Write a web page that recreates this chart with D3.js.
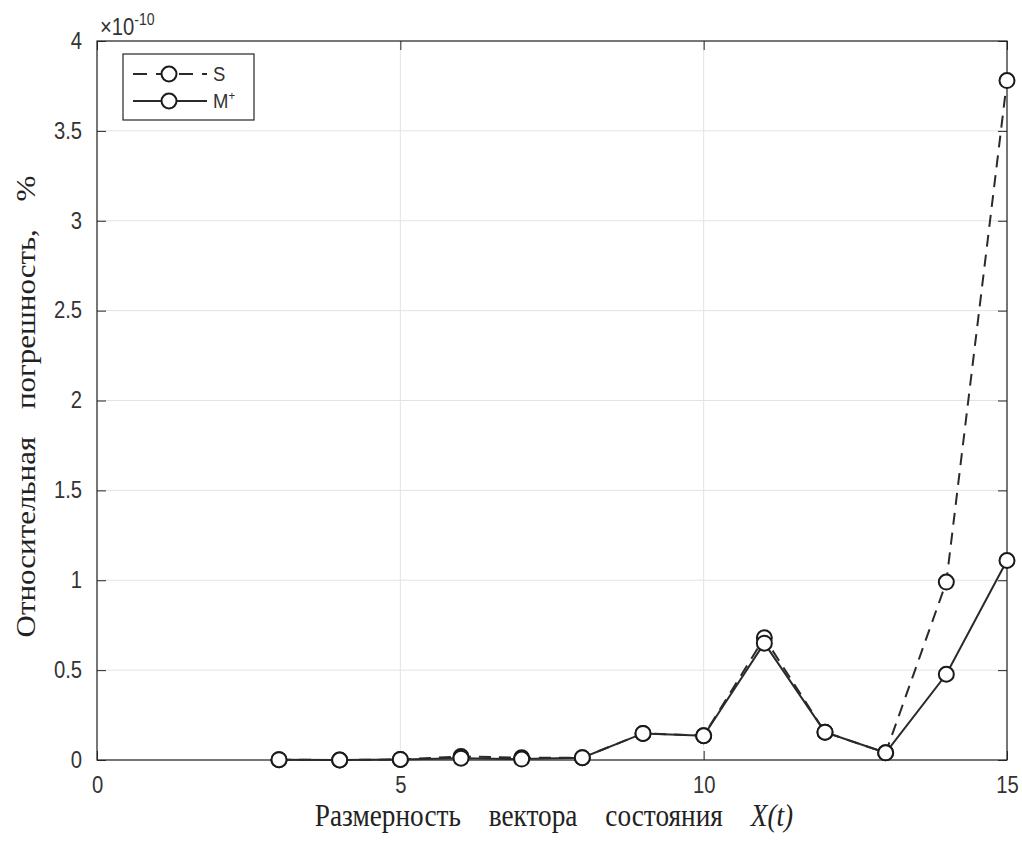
<!DOCTYPE html>
<html>
<head>
<meta charset="utf-8">
<script src="https://cdn.jsdelivr.net/npm/d3@7"></script>
<style>
  body { margin: 0; background: #fff; }
  svg { display: block; }
</style>
</head>
<body>
<div id="chart"></div>
<script>
// values in units of 1e-10 %
const dims = [3, 4, 5, 6, 7, 8, 9, 10, 11, 12, 13, 14, 15];
const valuesS = [0.002, 0.0, 0.003, 0.02, 0.012, 0.013, 0.148, 0.135, 0.68, 0.155, 0.04, 0.99, 3.78];
const valuesM = [0.002, 0.0, 0.003, 0.01, 0.005, 0.013, 0.148, 0.135, 0.65, 0.155, 0.04, 0.477, 1.11];
const xTicks = [0, 5, 10, 15];
const yTicks = [0, 0.5, 1, 1.5, 2, 2.5, 3, 3.5, 4];

const width = 1022, height = 841;
const margins = { top: 41, right: 15, bottom: 81, left: 97 };
const axisColor = "#262626";
const squeeze = 0.88; // source picture is a bit narrower than tall

const svg = d3.select("#chart")
    .append("svg")
    .attr("width", width)
    .attr("height", height);

const x = d3.scaleLinear()
    .domain([0, 15])
    .range([margins.left, width - margins.right]);
const y = d3.scaleLinear()
    .domain([0, 4])
    .range([height - margins.bottom, margins.top]);

const tickFont = "'Liberation Sans', Arial, sans-serif";

/** grid */
svg.append("g")
    .selectAll("line.gx")
    .data(xTicks)
    .join("line")
    .attr("x1", d => x(d)).attr("x2", d => x(d))
    .attr("y1", y(0)).attr("y2", y(4))
    .attr("stroke", "#e3e3e3")
    .attr("stroke-width", 1);
svg.append("g")
    .selectAll("line.gy")
    .data(yTicks)
    .join("line")
    .attr("x1", x(0)).attr("x2", x(15))
    .attr("y1", d => y(d)).attr("y2", d => y(d))
    .attr("stroke", "#e3e3e3")
    .attr("stroke-width", 1);

/** axes (ticks inward, box on) */
const styleAxis = g => {
    g.select(".domain").remove();
    g.selectAll(".tick line").attr("stroke", axisColor).attr("stroke-width", 1);
    g.selectAll(".tick text")
        .attr("fill", "#333")
        .attr("transform", `scale(${squeeze},1)`)
        .style("font-family", tickFont)
        .style("font-size", "23px");
};

svg.append("g")
    .attr("transform", `translate(0,${y(0)})`)
    .call(d3.axisBottom(x).tickValues(xTicks).tickFormat(d3.format("d")).tickSizeInner(-9).tickPadding(17))
    .call(styleAxis);
svg.append("g")
    .attr("transform", `translate(0,${y(4)})`)
    .call(d3.axisTop(x).tickValues(xTicks).tickFormat("").tickSizeInner(-9))
    .call(styleAxis);
svg.append("g")
    .attr("transform", `translate(${x(0)},0)`)
    .call(d3.axisLeft(y).tickValues(yTicks).tickFormat(d => d).tickSizeInner(-9).tickPadding(17))
    .call(styleAxis);
svg.append("g")
    .attr("transform", `translate(${x(15)},0)`)
    .call(d3.axisRight(y).tickValues(yTicks).tickFormat("").tickSizeInner(-9))
    .call(styleAxis);

svg.append("rect")
    .attr("x", x(0)).attr("y", y(4))
    .attr("width", x(15) - x(0)).attr("height", y(0) - y(4))
    .attr("fill", "none")
    .attr("stroke", axisColor)
    .attr("stroke-width", 1.2);

/** exponent */
const expo = svg.append("text")
    .attr("transform", `translate(100,35) scale(${squeeze},1)`)
    .attr("fill", "#333")
    .style("font-family", tickFont)
    .style("font-size", "23px");
expo.append("tspan").text("\u00d710");
expo.append("tspan").attr("dy", -10).style("font-size", "16px").text("-10");

/** axis labels */
const serif = "'Liberation Serif', 'Times New Roman', serif";
const xl = svg.append("text")
    .attr("transform", `translate(${(x(0) + x(15)) / 2 + 2},826) scale(${squeeze},1)`)
    .attr("text-anchor", "middle")
    .attr("fill", "#222")
    .style("font-family", serif)
    .style("font-size", "31px")
    .style("word-spacing", "24px");
xl.append("tspan").text("Размерность вектора состояния ");
xl.append("tspan").style("font-style", "italic").text("X(t)");

svg.append("text")
    .attr("transform", `translate(35,${(y(0) + y(4)) / 2 + 6}) rotate(-90) scale(1,${squeeze})`)
    .attr("text-anchor", "middle")
    .attr("fill", "#222")
    .style("font-family", serif)
    .style("font-size", "31px")
    .style("word-spacing", "20px")
    .text("Относительная погрешность, %");

/** series */
const series = [
    { name: "S", values: valuesS, dash: "12,8" },
    { name: "M", values: valuesM, dash: null }
];

const line = d3.line()
    .x(d => x(d[0]))
    .y(d => y(d[1]));

series.forEach(s => {
    const pts = dims.map((d, i) => [d, s.values[i]]);
    svg.append("path")
        .attr("d", line(pts))
        .attr("fill", "none")
        .attr("stroke", "#2a2a2a")
        .attr("stroke-width", 2)
        .attr("stroke-dasharray", s.dash);
    svg.append("g")
        .selectAll("circle")
        .data(pts)
        .join("circle")
        .attr("cx", d => x(d[0]))
        .attr("cy", d => y(d[1]))
        .attr("r", 7.5)
        .attr("fill", "#fff")
        .attr("stroke", "#1a1a1a")
        .attr("stroke-width", 2);
});

/** legend */
const lg = svg.append("g").attr("transform", "translate(123,54)");
lg.append("rect")
    .attr("width", 131).attr("height", 66)
    .attr("fill", "#fff")
    .attr("stroke", axisColor)
    .attr("stroke-width", 1.2);
const rows = [
    { y: 20, dash: "14,9", label: "S", sup: null },
    { y: 47, dash: null, label: "M", sup: "+" }
];
rows.forEach(r => {
    lg.append("line")
        .attr("x1", 10).attr("x2", 84)
        .attr("y1", r.y).attr("y2", r.y)
        .attr("stroke", "#2a2a2a")
        .attr("stroke-width", 2)
        .attr("stroke-dasharray", r.dash);
    lg.append("circle")
        .attr("cx", 46).attr("cy", r.y).attr("r", 7.5)
        .attr("fill", "#fff")
        .attr("stroke", "#1a1a1a")
        .attr("stroke-width", 2);
    const t = lg.append("text")
        .attr("transform", `translate(90,${r.y + 7}) scale(${squeeze},1)`)
        .attr("fill", "#333")
        .style("font-family", tickFont)
        .style("font-size", "21px")
        .text(r.label);
    if (r.sup) t.append("tspan").attr("dy", -8).style("font-size", "13px").text(r.sup);
});
</script>
</body>
</html>
